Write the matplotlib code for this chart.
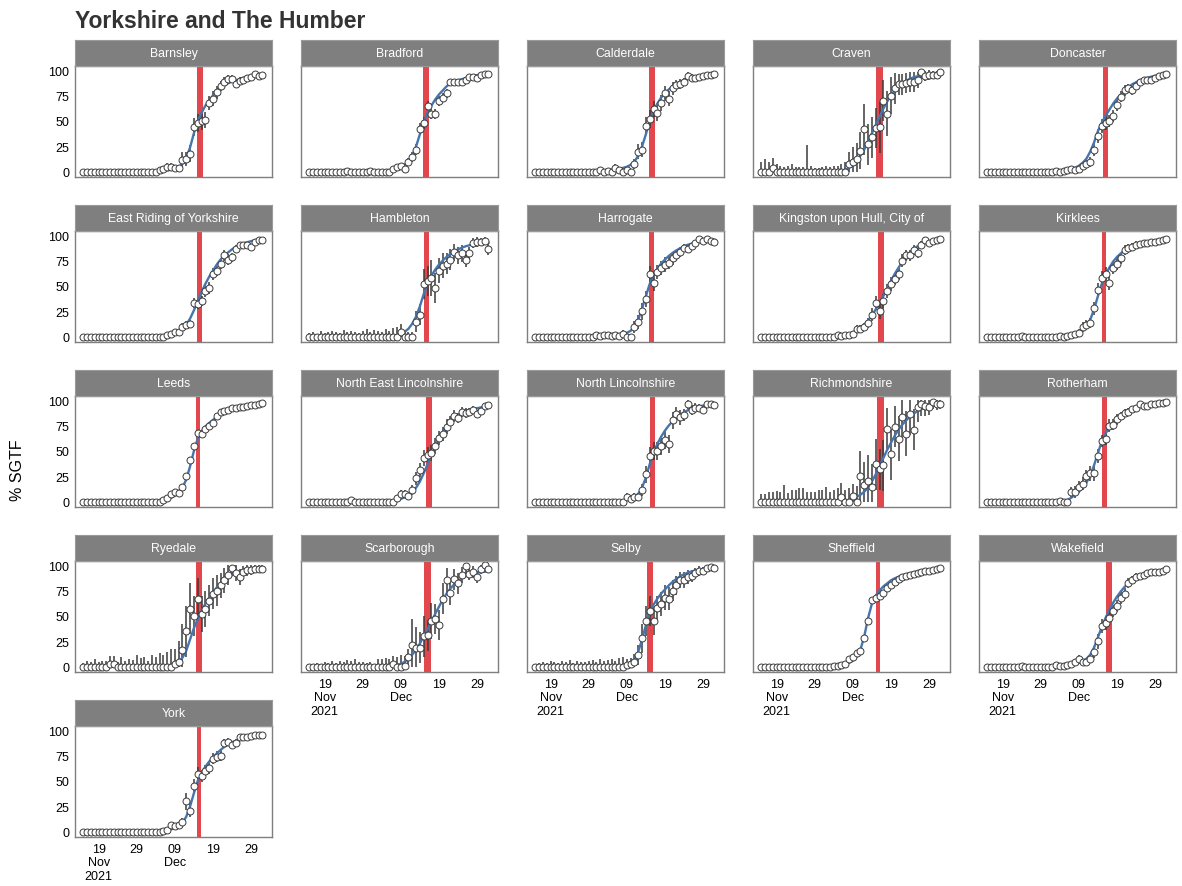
import numpy as np
import matplotlib
matplotlib.use("Agg")
import matplotlib.pyplot as plt

plt.rcParams['font.family'] = ['Liberation Sans', 'DejaVu Sans']

TITLE = 'Yorkshire and The Humber'
YLABEL = '% SGTF'

AREAS = ['Barnsley', 'Bradford', 'Calderdale', 'Craven', 'Doncaster',
         'East Riding of Yorkshire', 'Hambleton', 'Harrogate',
         'Kingston upon Hull, City of', 'Kirklees',
         'Leeds', 'North East Lincolnshire', 'North Lincolnshire',
         'Richmondshire', 'Rotherham',
         'Ryedale', 'Scarborough', 'Selby', 'Sheffield', 'Wakefield',
         'York']

START = np.datetime64('2021-11-15')
N_DAYS = 48
TICK_DATES = ['2021-11-19', '2021-11-29', '2021-12-09', '2021-12-19', '2021-12-29']
TICK_LABELS = ['19\nNov\n2021', '29', '09\nDec', '19', '29']
Y_TICKS = [0, 25, 50, 75, 100]

# observed % SGTF per day (from 15 Nov 2021)
OBS = {
    'Barnsley': [0]*20 + [2, 3, 5, 5, 4, 4, 12, 13, 18, 44, 48, 50, 51, 68, 72, 78, 84, 88, 91, 91, 86, 89, 90, 92, 93, 96, 94, 95],
    'Bradford': [0]*10 + [1] + [0]*5 + [1] + [0]*5 + [3, 5, 6, 3, 10, 15, 22, 42, 48, 65, 57, 57, 70, 73, 77, 88, 88, 88, 88, 90, 93, 93, 92, 95, 96, 96],
    'Calderdale': [0]*17 + [2, 0, 1, 0, 4, 2, 0, 2, 0, 8, 20, 22, 45, 52, 62, 58, 68, 77, 72, 82, 85, 86, 88, 94, 92, 92, 93, 94, 95, 95, 96],
    'Craven': [0, 0, 0, 4] + [0]*19 + [8, 10, 13, 21, 42, 27, 34, 43, 44, 70, 57, 75, 82, 86, 86, 87, 88, 88, 90, 98, 94, 95, 95, 95, 98],
    'Doncaster': [0]*18 + [1, 0, 1, 2, 3, 2, 3, 6, 8, 10, 22, 35, 45, 48, 50, 55, 66, 74, 80, 82, 80, 84, 88, 90, 90, 90, 92, 94, 95, 96],
    'East Riding of Yorkshire': [0]*22 + [2, 3, 5, 5, 10, 12, 13, 33, 32, 35, 45, 48, 62, 65, 72, 80, 76, 78, 86, 90, 90, 90, 88, 93, 95, 95],
    'Hambleton': [0]*24 + [5, 0, 0, 0, 15, 22, 52, 55, 58, 48, 65, 70, 72, 76, 83, 80, 82, 76, 82, 92, 93, 93, 94, 86],
    'Harrogate': [0]*16 + [2, 1, 2, 2, 1, 2, 1, 3, 0, 0, 10, 15, 25, 37, 62, 53, 64, 68, 71, 73, 77, 80, 83, 87, 86, 89, 92, 96, 94, 96, 94, 93],
    'Kingston upon Hull, City of': [0]*20 + [2, 1, 2, 2, 3, 8, 8, 10, 14, 22, 33, 25, 35, 45, 52, 57, 62, 75, 80, 80, 85, 82, 90, 95, 92, 94, 95, 96],
    'Kirklees': [0]*9 + [1] + [0]*9 + [1, 0, 1, 2, 3, 4, 10, 12, 14, 28, 46, 58, 62, 53, 68, 72, 77, 85, 87, 88, 90, 91, 92, 92, 93, 93, 94, 95, 96],
    'Leeds': [0]*21 + [2, 4, 8, 10, 9, 15, 25, 41, 55, 68, 67, 72, 75, 77, 84, 88, 89, 90, 92, 92, 93, 93, 94, 95, 95, 96, 97],
    'North East Lincolnshire': [0]*11 + [2] + [0]*11 + [4, 8, 8, 6, 12, 23, 31, 43, 46, 48, 55, 63, 67, 74, 78, 84, 82, 88, 87, 88, 90, 86, 89, 94, 95],
    'North Lincolnshire': [0]*24 + [5, 3, 5, 5, 12, 27, 45, 50, 50, 55, 61, 57, 80, 86, 83, 85, 96, 90, 92, 92, 90, 96, 96, 95],
    'Richmondshire': [0]*21 + [5, 0, 0, 6, 0, 25, 17, 21, 15, 37, 32, 36, 72, 47, 74, 62, 83, 67, 86, 71, 93, 96, 94, 93, 98, 96, 96],
    'Rotherham': [0]*19 + [1, 0, 0, 10, 10, 15, 18, 25, 28, 28, 45, 60, 62, 75, 76, 81, 84, 87, 88, 91, 92, 96, 94, 94, 96, 96, 97, 97, 98],
    'Ryedale': [0]*7 + [3, 3] + [0]*15 + [3, 5, 17, 35, 57, 50, 67, 52, 57, 65, 72, 75, 80, 85, 90, 97, 92, 88, 93, 95, 95, 96, 96, 96],
    'Scarborough': [0]*22 + [3, 0, 0, 1, 10, 22, 19, 19, 30, 31, 45, 47, 41, 67, 85, 73, 86, 82, 90, 99, 91, 93, 88, 96, 100, 96],
    'Selby': [0]*24 + [2, 3, 5, 12, 28, 45, 55, 45, 58, 62, 68, 67, 75, 80, 85, 85, 88, 89, 92, 94, 94, 97, 98, 97],
    'Sheffield': [0]*19 + [1, 1, 2, 3, 8, 10, 14, 16, 28, 45, 66, 68, 70, 73, 77, 80, 83, 86, 88, 89, 90, 91, 92, 93, 94, 94, 95, 96, 97],
    'Wakefield': [0]*9 + [1] + [0]*8 + [2, 1, 1, 2, 3, 5, 8, 5, 5, 8, 15, 25, 40, 43, 48, 55, 60, 68, 72, 82, 85, 88, 89, 90, 92, 93, 93, 93, 94, 96],
    'York': [0]*21 + [1, 2, 7, 6, 7, 10, 30, 21, 45, 57, 55, 60, 63, 72, 74, 75, 87, 88, 85, 87, 93, 93, 93, 94, 95, 95, 95],
}

# half width of the interval around each point
CI = {
    'Barnsley': [1]*20 + [2, 3, 4, 4, 3, 3, 8, 7, 8, 9, 9, 9, 8, 7, 7, 6, 5, 5, 4, 4, 4, 4, 3, 3, 3, 2, 2, 2],
    'Bradford': [1]*22 + [2, 3, 3, 3, 4, 5, 5, 6, 6, 5, 5, 5, 5, 4, 4, 3, 3, 3, 3, 3, 2, 2, 2, 2, 2, 2],
    'Calderdale': [2]*17 + [3, 2, 2, 2, 4, 3, 2, 3, 2, 5, 7, 7, 9, 9, 8, 8, 8, 7, 7, 6, 5, 5, 4, 4, 4, 3, 3, 3, 3, 3, 2],
    'Craven': [10, 13, 10, 10, 8, 6, 5, 6, 8, 5, 5, 5, 26, 6, 4, 4, 5, 6, 5, 6, 6, 8, 10,
               12, 14, 15, 18, 25, 20, 20, 20, 25, 20, 22, 18, 15, 10, 10, 10, 10, 10, 8, 6, 5, 5, 4, 4, 3],
    'Doncaster': [1]*18 + [2, 1, 2, 2, 3, 2, 3, 4, 4, 5, 6, 7, 7, 7, 6, 6, 6, 5, 5, 4, 4, 4, 3, 3, 3, 3, 2, 2, 2, 2],
    'East Riding of Yorkshire': [1]*22 + [2, 2, 3, 3, 4, 4, 4, 5, 5, 5, 6, 6, 6, 5, 5, 5, 5, 4, 4, 3, 3, 3, 3, 2, 2, 2],
    'Hambleton': [4, 5, 3, 6, 4, 5, 6, 5, 4, 7, 5, 6, 5, 4, 6, 8, 5, 7, 6, 5, 8, 6, 9, 10,
                  8, 6, 5, 5, 10, 10, 15, 15, 18, 15, 12, 12, 10, 10, 8, 8, 8, 7, 6, 5, 5, 4, 4, 6],
    'Harrogate': [2]*16 + [3, 2, 3, 3, 2, 3, 2, 4, 2, 2, 6, 7, 8, 8, 8, 8, 7, 7, 7, 6, 6, 5, 5, 4, 4, 3, 3, 3, 3, 3, 2, 2],
    'Kingston upon Hull, City of': [1]*20 + [2, 2, 2, 2, 3, 4, 4, 4, 5, 6, 7, 7, 7, 7, 7, 6, 6, 6, 5, 5, 5, 5, 4, 3, 3, 3, 2, 2],
    'Kirklees': [1]*19 + [2, 1, 2, 2, 3, 4, 5, 5, 5, 6, 7, 7, 7, 7, 6, 6, 5, 5, 4, 4, 4, 3, 3, 3, 3, 2, 2, 2, 2],
    'Leeds': [1]*21 + [1, 2, 2, 3, 3, 3, 3, 3, 3, 3, 3, 3, 3, 3, 2, 2, 2, 2, 2, 2, 2, 2, 1, 1, 1, 1, 1],
    'North East Lincolnshire': [1]*23 + [3, 4, 4, 4, 5, 6, 7, 8, 8, 8, 8, 7, 7, 7, 6, 6, 5, 5, 5, 4, 4, 4, 3, 3, 3],
    'North Lincolnshire': [1]*24 + [4, 3, 4, 4, 6, 8, 9, 9, 9, 9, 9, 9, 8, 7, 7, 6, 5, 5, 5, 4, 4, 3, 3, 3],
    'Richmondshire': [8, 8, 10, 10, 11, 10, 17, 9, 12, 12, 14, 14, 10, 10, 10, 12, 12, 15, 10, 12, 14, 14,
                      12, 14, 12, 16, 25, 22, 25, 22, 25, 20, 25, 20, 25, 20, 22, 22, 22, 20, 20, 15, 12, 10, 8, 7, 6, 5],
    'Rotherham': [1]*19 + [2, 1, 1, 5, 6, 6, 6, 6, 7, 7, 7, 6, 6, 6, 5, 5, 4, 4, 4, 3, 3, 3, 3, 3, 2, 2, 2, 2, 2],
    'Ryedale': [4, 6, 5, 8, 5, 6, 6, 8, 8, 5, 10, 6, 8, 7, 12, 9, 10, 6, 12, 10, 14, 12, 15, 18,
                15, 20, 25, 25, 25, 20, 20, 18, 18, 15, 15, 15, 12, 12, 10, 8, 8, 8, 6, 6, 5, 4, 4, 4],
    'Scarborough': [3, 3, 4, 3, 5, 4, 6, 4, 6, 5, 7, 6, 8, 5, 5, 4, 5, 3, 8, 8, 9, 8,
                    8, 10, 12, 10, 8, 25, 20, 15, 20, 15, 18, 15, 15, 15, 12, 12, 10, 10, 8, 8, 6, 6, 6, 5, 5, 4],
    'Selby': [3, 4, 5, 4, 6, 5, 4, 6, 5, 7, 4, 6, 5, 5, 6, 7, 5, 8, 6, 7, 8, 6, 9, 10,
              6, 6, 8, 10, 14, 15, 15, 14, 12, 12, 12, 11, 10, 9, 8, 8, 7, 6, 5, 5, 4, 4, 3, 3],
    'Sheffield': [1]*19 + [1, 1, 1, 1, 2, 2, 2, 2, 2, 2, 2, 2, 2, 2, 2, 2, 2, 1, 1, 1, 1, 1, 1, 1, 1, 1, 1, 1, 1],
    'Wakefield': [1]*18 + [2, 1, 1, 2, 2, 3, 4, 3, 3, 4, 6, 7, 7, 7, 7, 6, 6, 6, 5, 5, 4, 4, 3, 3, 3, 3, 2, 2, 2, 2],
    'York': [1]*21 + [1, 2, 3, 3, 3, 4, 8, 6, 7, 7, 6, 6, 6, 5, 5, 5, 4, 4, 4, 4, 3, 3, 3, 2, 2, 2, 2],
}

# fitted curve per day
FIT = {
    'Barnsley': [0]*20 + [0.5, 1, 1.5, 2, 3, 5, 8, 14, 24, 38, 50, 58, 65, 70, 75, 79, 82, 85, 87, 89, 90, 91, 92.5, 93.5, 94.5, 95, 95.5, 96],
    'Bradford': [0.5]*22 + [2, 3, 5, 7, 10, 16, 25, 37, 49, 58, 65, 71, 76, 80, 84, 87, 89, 90, 91, 92, 93, 94, 95, 95.5, 96, 96.5],
    'Calderdale': [0.5]*17 + [1, 1, 1.5, 2, 2.5, 3, 4, 5, 7, 10, 16, 25, 37, 50, 60, 67, 73, 77, 81, 84, 86.5, 88.5, 90, 91.5, 92.5, 93.5, 94.3, 95, 95.5, 96, 96.4],
    'Craven': [0.5]*20 + [1, 1.5, 2, 4, 7, 11, 16, 22, 30, 38, 46, 54, 62, 69, 75, 80, 84, 87, 89.5, 91.5, 93, 94, 95, 95.8, 96.3, 96.8, 97.2, 97.5],
    'Doncaster': [0.3]*18 + [0.5, 1, 1.5, 2, 3, 4, 6, 9, 13, 20, 29, 40, 48, 55, 61, 67, 72, 76, 80, 83, 86, 88, 90, 91.5, 92.5, 93.5, 94.3, 95, 95.5, 96],
    'East Riding of Yorkshire': [0.2]*22 + [1, 2, 3, 5, 8, 12, 18, 26, 35, 44, 52, 59, 65, 71, 76, 80, 83, 86, 88.5, 90.5, 92, 93, 94, 95, 95.5, 96],
    'Hambleton': [0.3]*23 + [1, 3, 5, 8, 13, 20, 30, 42, 52, 60, 66, 71, 75, 78.5, 81.5, 84, 86, 87.5, 89, 90, 91, 91.5, 92, 92.5, 92.5],
    'Harrogate': [0.3]*16 + [0.5, 0.7, 1, 1.2, 1.5, 2, 2.5, 3, 4, 6, 10, 17, 28, 40, 52, 61, 67, 72, 76, 79.5, 82.5, 85, 87, 89, 90.5, 91.5, 92.5, 93.3, 94, 94.5, 95, 95.3],
    'Kingston upon Hull, City of': [0.3]*20 + [0.5, 1, 2, 3, 4.5, 6.5, 9, 12, 16, 21, 27, 33, 40, 48, 55, 62, 68, 74, 79, 83, 86.5, 89, 91, 92.5, 93.7, 94.6, 95.3, 95.8],
    'Kirklees': [0.3]*19 + [0.5, 1, 1.5, 2, 3, 4.5, 7, 11, 17, 27, 40, 52, 61, 68, 74, 78.5, 82, 85, 87.5, 89.5, 91, 92, 93, 93.8, 94.5, 95, 95.5, 96, 96.3],
    'Leeds': [0.3]*21 + [1, 2, 4, 6, 9, 14, 22, 35, 50, 62, 69, 74, 77.5, 80.5, 83.5, 86, 88, 89.5, 91, 92, 93, 93.7, 94.3, 95, 95.5, 96, 96.5],
    'North East Lincolnshire': [0.3]*22 + [1, 2, 3, 4.5, 6.5, 9.5, 14, 20, 28, 37, 46, 54, 62, 68, 74, 78.5, 82, 85, 87, 88.5, 90, 91, 92, 92.8, 93.5, 94],
    'North Lincolnshire': [0.3]*23 + [1, 2, 3, 5, 8, 14, 24, 37, 48, 57, 64, 70, 75, 79, 82.5, 85.5, 88, 90, 91.5, 92.8, 93.8, 94.6, 95.2, 95.7, 96],
    'Richmondshire': [0.3]*21 + [1, 1, 2, 3, 5, 7, 10, 14, 20, 27, 35, 43, 51, 58, 65, 71, 76, 80, 84, 87, 89, 91, 92.5, 93.5, 94.5, 95, 95.5],
    'Rotherham': [0.3]*19 + [0.5, 1, 2, 4, 7, 10, 14, 19, 26, 36, 48, 59, 67, 73, 78, 82, 85, 87.5, 89.5, 91, 92.3, 93.3, 94.2, 95, 95.6, 96.1, 96.5, 96.9, 97.2],
    'Ryedale': [0.5]*20 + [0.5, 1, 1.5, 2, 3, 5, 9, 16, 27, 38, 47, 55, 62, 68, 73, 78, 82, 85, 88, 90, 92, 93, 94, 95, 95.5, 96, 96.5, 97],
    'Scarborough': [0.3]*21 + [0.5, 1, 2, 3, 5, 8, 12, 17, 23, 30, 37, 44, 52, 59, 66, 72, 77, 81, 84.5, 87, 89, 90.5, 91.5, 92.5, 93, 93.5, 94],
    'Selby': [0.3]*22 + [0.5, 1, 2, 4, 8, 15, 27, 41, 53, 61, 67, 72, 76, 80, 83.5, 86.5, 89, 91, 92.5, 93.8, 94.8, 95.6, 96.2, 96.7, 97, 97.3],
    'Sheffield': [0.2]*19 + [0.5, 1, 1.5, 2.5, 4, 6, 10, 17, 30, 48, 62, 70, 75, 79, 82, 85, 87, 88.5, 90, 91, 92, 93, 93.8, 94.5, 95, 95.5, 96, 96.4, 96.8],
    'Wakefield': [0.3]*18 + [0.5, 0.8, 1, 1.5, 2, 3, 4, 5.5, 8, 12, 19, 29, 39, 48, 56, 63, 69, 74, 78.5, 82, 85, 87.5, 89.5, 91, 92.3, 93.3, 94, 94.7, 95.2, 95.6],
    'York': [0.3]*21 + [1, 1.5, 2.5, 4, 6, 9, 15, 25, 38, 50, 58, 64, 69, 73, 77, 80.5, 83.5, 86, 88, 89.5, 91, 92, 93, 93.8, 94.5, 95, 95.3],
}

# red band: start / end, days after 15 Nov 2021
BAND = {
    'Barnsley': (29.9, 31.4), 'Bradford': (29.9, 31.4), 'Calderdale': (29.8, 31.4),
    'Craven': (30.1, 32.0), 'Doncaster': (30.3, 31.6),
    'East Riding of Yorkshire': (29.7, 31.2), 'Hambleton': (30.1, 31.5),
    'Harrogate': (29.9, 31.2), 'Kingston upon Hull, City of': (30.5, 32.1),
    'Kirklees': (30.2, 31.2), 'Leeds': (29.6, 30.5),
    'North East Lincolnshire': (30.7, 32.2), 'North Lincolnshire': (30.2, 31.5),
    'Richmondshire': (30.4, 32.2), 'Rotherham': (30.0, 31.5),
    'Ryedale': (29.5, 31.2), 'Scarborough': (30.2, 32.0), 'Selby': (29.3, 30.9),
    'Sheffield': (30.1, 31.0), 'Wakefield': (31.0, 32.6), 'York': (29.7, 30.8),
}

FIG_W, FIG_H = 1182, 887
COL_X = [75, 301, 527, 753, 979]
ROW_Y = [67, 232, 397, 562, 727]
PW, PH, STRIP_H = 197, 111, 26

fig = plt.figure(figsize=(FIG_W / 100, FIG_H / 100), dpi=100)

days = np.arange(N_DAYS)
tick_pos = [(np.datetime64(d) - START).astype(int) for d in TICK_DATES]
n_cols = 5

for i, area in enumerate(AREAS):
    r, c = divmod(i, n_cols)
    x0, y0 = COL_X[c], ROW_Y[r]
    ax = fig.add_axes([x0 / FIG_W, 1 - (y0 + PH) / FIG_H, PW / FIG_W, PH / FIG_H])
    sax = fig.add_axes([x0 / FIG_W, 1 - y0 / FIG_H, PW / FIG_W, STRIP_H / FIG_H])
    sax.set_facecolor('#7f7f7f')
    sax.set_xticks([])
    sax.set_yticks([])
    for s in sax.spines.values():
        s.set_color('#9a9a9a')
        s.set_linewidth(0.8)
    sax.text(0.5, 0.5, area, color='white', fontsize=8.8, ha='center', va='center',
             transform=sax.transAxes)

    obs = np.array(OBS[area], dtype=float)
    ci = np.array(CI[area], dtype=float)
    lo = np.clip(obs - ci, 0, 100)
    hi = np.clip(obs + ci, 0, 100)

    b0, b1 = BAND[area]
    ax.axvspan(b0, b1, color='#e2474d', lw=0, zorder=1)
    ax.vlines(days, lo, hi, color='#3a3a3a', lw=1.1, zorder=2)
    ax.plot(days, FIT[area], color='#4675ae', lw=1.7, zorder=3)
    ax.plot(days, obs, 'o', ms=5, mfc='white', mec='#3a3a3a', mew=0.7, zorder=4)

    ax.set_xlim(-2.2, 49.5)
    ax.set_ylim(-5, 104)
    for s in ax.spines.values():
        s.set_color('#7f7f7f')
        s.set_linewidth(1.0)
    ax.tick_params(length=0, labelsize=9, colors='black', pad=4)

    ax.set_yticks(Y_TICKS)
    if c != 0:
        ax.set_yticklabels([])

    ax.set_xticks(tick_pos)
    last_in_col = (i + n_cols >= len(AREAS))
    if last_in_col:
        ax.set_xticklabels(TICK_LABELS, linespacing=1.2)
    else:
        ax.set_xticklabels([])

fig.text(75 / FIG_W, 1 - 21 / FIG_H, TITLE, fontsize=16.5, fontweight='bold',
         color='#333333', ha='left', va='center')
fig.text(18 / FIG_W, 1 - 470 / FIG_H, YLABEL, fontsize=11.5, rotation=90,
         ha='center', va='center')

fig.savefig('out.png', dpi=100)
